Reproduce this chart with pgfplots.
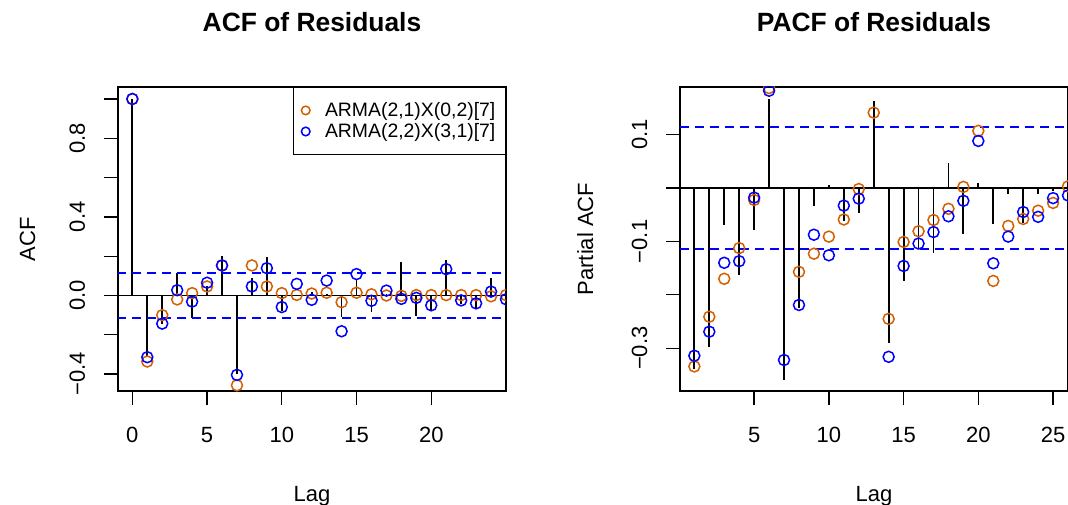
\documentclass[border=0pt]{standalone}
\usepackage{fontspec}
\setmainfont{Liberation Sans}
\usepackage{pgfplots}
\pgfplotsset{compat=1.18}

\definecolor{armaA}{HTML}{D55E00}
\definecolor{armaB}{HTML}{0000FF}

\pgfplotsset{
  rpanel/.style={scale only axis, width=388pt, height=304pt, anchor=south west,
    axis line style={black, line width=1.3pt},
    tick align=outside, major tick length=14pt,
    tick style={black, line width=1.3pt},
    xtick pos=bottom, ytick pos=left,
    ticklabel style={font=\fontsize{22}{26}\selectfont},
    xticklabel style={anchor=base, yshift=-37.7pt},
    yticklabel style={rotate=90, anchor=base, yshift=19pt},
    clip marker paths=true},
  rspike/.style={ycomb, black, line width=1.8pt, no markers},
  rci/.style={draw=armaB, line width=1.5pt, dash pattern=on 9pt off 6pt, no markers},
  rzero/.style={draw=black, line width=1.3pt, no markers},
  ptA/.style={only marks, mark=o, armaA, mark size=5.5pt, line width=1.5pt,
    legend image code/.code={\draw[##1, mark size=4.3pt] plot coordinates {(0pt,0pt)};}},
  ptB/.style={only marks, mark=o, armaB, mark size=5.5pt, line width=1.5pt,
    legend image code/.code={\draw[##1, mark size=4.3pt] plot coordinates {(0pt,0pt)};}},
}

\begin{document}
\begin{tikzpicture}
\path[use as bounding box] (0pt,0pt) rectangle (1068pt,504pt);

% ACF panel
\begin{axis}[rpanel, at={(118pt,113pt)},
  xmin=-0.96, xmax=25.0, ymin=-0.486, ymax=1.061,
  xtick={0,5,10,15,20}, xticklabels={0,5,10,15,20},
  ytick={-0.4,-0.2,0,0.2,0.4,0.6,0.8,1.0}, yticklabels={−0.4,,0.0,,0.4,,0.8,},
  legend style={at={(1,1)}, anchor=north east, draw=black, line width=1.3pt, fill=white,
    font=\fontsize{19.4}{22}\selectfont, inner xsep=8pt, inner ysep=13pt, row sep=1.5pt,
    nodes={inner sep=2pt}, /tikz/every odd column/.append style={column sep=13pt}},
  legend cell align=left]
\addplot[rspike, forget plot] coordinates {(0,1.0) (1,-0.31) (2,-0.145) (3,0.115) (4,-0.112) (5,0.046) (6,0.199) (7,-0.40) (8,0.088) (9,0.195) (10,-0.08) (11,0.005) (12,0.02) (13,0.01) (14,-0.11) (15,0.08) (16,-0.085) (17,0.01) (18,0.17) (19,-0.104) (20,-0.073) (21,0.18) (22,-0.042) (23,-0.065) (24,0.088)};
\addplot[rzero, forget plot] coordinates {(-2,0) (27,0)};
\addplot[rci, forget plot] coordinates {(-2,0.1155) (27,0.1155)};
\addplot[rci, forget plot] coordinates {(-2,-0.1155) (27,-0.1155)};
\addplot[ptA] coordinates {(0,1.0) (1,-0.336) (2,-0.100) (3,-0.020) (4,0.012) (5,0.046) (6,0.153) (7,-0.457) (8,0.153) (9,0.046) (10,0.012) (11,0.003) (12,0.01) (13,0.014) (14,-0.034) (15,0.014) (16,0.006) (17,0.0) (18,-0.002) (19,0.002) (20,0.002) (21,0.002) (22,0.002) (23,0.002) (24,-0.004) (25,0.002)};
\addlegendentry{ARMA(2,1)X(0,2)[7]}
\addplot[ptB] coordinates {(0,1.0) (1,-0.314) (2,-0.143) (3,0.027) (4,-0.031) (5,0.065) (6,0.153) (7,-0.404) (8,0.046) (9,0.139) (10,-0.059) (11,0.059) (12,-0.022) (13,0.076) (14,-0.182) (15,0.109) (16,-0.027) (17,0.025) (18,-0.017) (19,-0.012) (20,-0.05) (21,0.134) (22,-0.025) (23,-0.04) (24,0.02) (25,-0.019)};
\addlegendentry{ARMA(2,2)X(3,1)[7]}
\end{axis}

% PACF panel
\begin{axis}[rpanel, at={(680pt,113pt)},
  xmin=0.04, xmax=26.0, ymin=-0.38, ymax=0.189,
  xtick={5,10,15,20,25}, xticklabels={5,10,15,20,25},
  ytick={-0.3,-0.2,-0.1,0,0.1}, yticklabels={−0.3,,−0.1,,0.1}]
\addplot[rspike] coordinates {(1,-0.339) (2,-0.297) (3,-0.070) (4,-0.1625) (5,-0.078) (6,0.167) (7,-0.360) (8,-0.225) (9,-0.034) (10,0.006) (11,-0.0625) (12,-0.047) (13,0.162) (14,-0.290) (15,-0.174) (16,-0.1125) (17,-0.122) (18,0.046) (19,-0.086) (20,0.009) (21,-0.067) (22,-0.011) (23,-0.066) (24,-0.011) (25,-0.005)};
\addplot[rzero] coordinates {(-2,0) (28,0)};
\addplot[rci] coordinates {(-2,0.1145) (28,0.1145)};
\addplot[rci] coordinates {(-2,-0.1145) (28,-0.1145)};
\addplot[ptA] coordinates {(1,-0.334) (2,-0.241) (3,-0.170) (4,-0.1125) (5,-0.0225) (6,0.187) (7,-0.3875) (8,-0.157) (9,-0.123) (10,-0.091) (11,-0.059) (12,-0.002) (13,0.141) (14,-0.245) (15,-0.101) (16,-0.081) (17,-0.060) (18,-0.039) (19,0.002) (20,0.107) (21,-0.174) (22,-0.071) (23,-0.058) (24,-0.0425) (25,-0.028) (26,0.003)};
\addplot[ptB] coordinates {(1,-0.314) (2,-0.269) (3,-0.140) (4,-0.137) (5,-0.018) (6,0.182) (7,-0.322) (8,-0.219) (9,-0.0875) (10,-0.126) (11,-0.033) (12,-0.020) (13,0.22) (14,-0.316) (15,-0.146) (16,-0.104) (17,-0.0825) (18,-0.053) (19,-0.024) (20,0.088) (21,-0.141) (22,-0.091) (23,-0.045) (24,-0.054) (25,-0.019) (26,-0.014)};
\end{axis}

% titles and axis labels
\node[anchor=base, font=\bfseries\fontsize{26.4}{30}\selectfont] at (312pt,472.3pt) {ACF of Residuals};
\node[anchor=base, font=\bfseries\fontsize{26.4}{30}\selectfont] at (874pt,472.3pt) {PACF of Residuals};
\node[anchor=base, font=\fontsize{22}{26}\selectfont] at (312pt,3pt) {Lag};
\node[anchor=base, font=\fontsize{22}{26}\selectfont] at (874pt,3pt) {Lag};
\node[anchor=base, rotate=90, font=\fontsize{22}{26}\selectfont] at (35pt,265pt) {ACF};
\node[anchor=base, rotate=90, font=\fontsize{22}{26}\selectfont] at (593pt,265pt) {Partial ACF};
\end{tikzpicture}
\end{document}
